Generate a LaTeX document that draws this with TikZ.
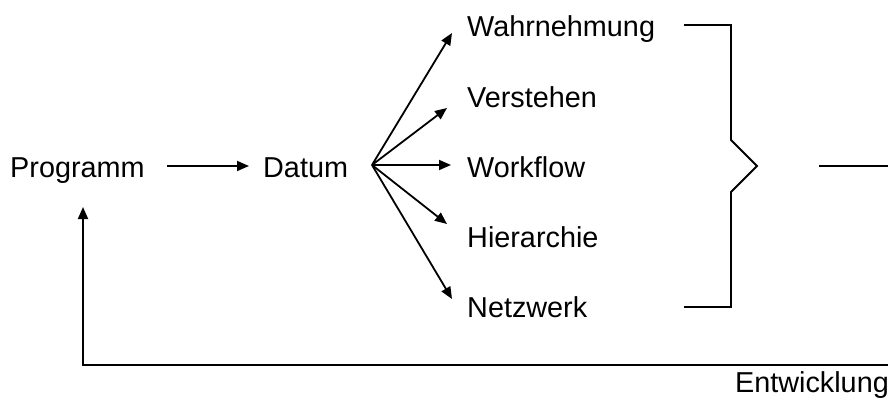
\documentclass[tikz,border=0pt]{standalone}
\usepackage{fontspec}
\setmainfont{Liberation Sans}
\usetikzlibrary{arrows.meta}
\begin{document}
\begin{tikzpicture}[x=1pt,y=-1pt,
  lbl/.style={anchor=base west,inner sep=0pt,font=\fontsize{28.8}{34}\selectfont},
  line/.style={line width=1.8pt},
  arr/.style={line width=1.8pt,-{Triangle[length=12pt,width=10pt]}}]
  \useasboundingbox (0,0) rectangle (888,401);

  % main chain
  \node[lbl] (prog) at (10,177) {Programm};
  \node[lbl] (dat)  at (263,177) {Datum};

  % aspects
  \node[lbl] (wahr) at (467,37)  {Wahrnehmung};
  \node[lbl] (vers) at (467,108) {Verstehen};
  \node[lbl] (work) at (467,177) {Workflow};
  \node[lbl] (hier) at (467,247) {Hierarchie};
  \node[lbl] (netz) at (467,317) {Netzwerk};

  \node[lbl,anchor=base east] (entw) at (889,392) {Entwicklung};

  % anchor points of the connectors
  \coordinate (progout) at (167,166);
  \coordinate (datin)   at (249,166);
  \coordinate (fan)     at (372,165);
  \coordinate (twahr)   at (452,33);
  \coordinate (tvers)   at (447,108);
  \coordinate (twork)   at (451,165);
  \coordinate (thier)   at (447,224);
  \coordinate (tnetz)   at (452,299);
  \coordinate (fbright) at (890,365);
  \coordinate (fbleft)  at (83,365);
  \coordinate (progin)  at (83,207);

  \draw[arr] (progout) -- (datin);
  \draw[arr] (fan) -- (twahr);
  \draw[arr] (fan) -- (tvers);
  \draw[arr] (fan) -- (twork);
  \draw[arr] (fan) -- (thier);
  \draw[arr] (fan) -- (tnetz);

  % bracket collecting the aspects
  \draw[line,line join=miter] (684,25) -- (731,25) -- (731,140) -- (757,166)
        -- (731,192) -- (731,307) -- (684,307);
  \coordinate (brout) at (819,166);
  \draw[line] (brout) -- (890,166);

  % feedback loop back to the program
  \draw[arr,line join=miter] (fbright) -- (fbleft) -- (progin);
\end{tikzpicture}
\end{document}
